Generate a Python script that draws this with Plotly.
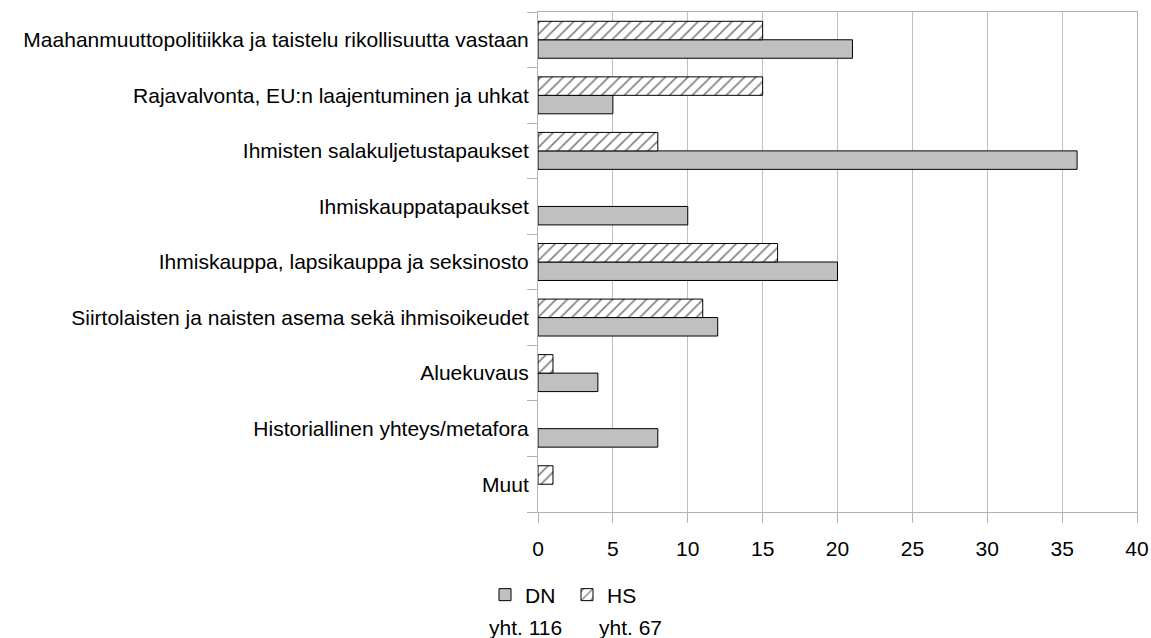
import plotly.graph_objects as go

categories = [
    "Maahanmuuttopolitiikka ja taistelu rikollisuutta vastaan",
    "Rajavalvonta, EU:n laajentuminen ja uhkat",
    "Ihmisten salakuljetustapaukset",
    "Ihmiskauppatapaukset",
    "Ihmiskauppa, lapsikauppa ja seksinosto",
    "Siirtolaisten ja naisten asema sekä ihmisoikeudet",
    "Aluekuvaus",
    "Historiallinen yhteys/metafora",
    "Muut",
]
dn_values = [21, 5, 36, 10, 20, 12, 4, 8, 0]
hs_values = [15, 15, 8, 0, 16, 11, 1, 0, 1]
totals = {"DN": 116, "HS": 67}
x_ticks = [0, 5, 10, 15, 20, 25, 30, 35, 40]

FONT = "Liberation Sans, Arial, sans-serif"
FS = 21
W, H = 1151, 638
# plot area in page pixels
PL, PR, PT, PB = 538, 1137, 12, 512
pw, ph = PR - PL, PB - PT


def nonzero(vals):
    # zero-length bars are not drawn in the reference
    return [v if v else None for v in vals]


fig = go.Figure()
fig.add_trace(go.Bar(
    y=categories, x=nonzero(dn_values), orientation="h", name="DN",
    marker=dict(color="#c0c0c0", line=dict(color="black", width=1)),
))
fig.add_trace(go.Bar(
    y=categories, x=nonzero(hs_values), orientation="h", name="HS",
    marker=dict(color="white", line=dict(color="black", width=1),
                pattern=dict(shape="/", fgcolor="black", bgcolor="white", size=8, solidity=0.2)),
))


def px_x(p):
    return (p - PL) / pw


def px_y(p):
    return (PB - p) / ph


for name, cx in (("DN", 525), ("HS", 630)):
    fig.add_annotation(text=f"yht. {totals[name]}", x=px_x(cx), y=px_y(627),
                       xref="paper", yref="paper", xanchor="center", yanchor="middle",
                       showarrow=False, font=dict(family=FONT, size=FS, color="black"))

fig.update_layout(
    width=W, height=H,
    margin=dict(l=PL, r=W - PR, t=PT, b=H - PB, autoexpand=False),
    paper_bgcolor="white", plot_bgcolor="white",
    barmode="group", bargap=0.335, bargroupgap=0,
    font=dict(family=FONT, size=FS, color="black"),
    showlegend=True,
    legend=dict(orientation="h", x=px_x(485), y=px_y(595), xanchor="left", yanchor="middle",
                font=dict(family=FONT, size=FS, color="black"), itemwidth=30, tracegroupgap=0,
                entrywidth=37, entrywidthmode="pixels"),
    xaxis=dict(range=[0, 40], tickvals=x_ticks, showgrid=True, gridcolor="#c0c0c0", gridwidth=1,
               zeroline=False, showline=True, linecolor="#b3b3b3", mirror=True,
               ticks="outside", ticklen=10, tickcolor="#b3b3b3", ticklabelstandoff=8,
               tickfont=dict(family=FONT, size=FS)),
    yaxis=dict(categoryorder="array", categoryarray=categories[::-1], showline=True,
               linecolor="#b3b3b3", mirror=True, ticks="outside", ticklen=10, tickcolor="#b3b3b3",
               tickson="boundaries", showgrid=False, ticklabelstandoff=4,
               tickfont=dict(family=FONT, size=FS)),
)

fig.write_html("out.html", config={"displayModeBar": False},
               post_script="document.body.style.margin='0';document.body.style.overflow='hidden';")
